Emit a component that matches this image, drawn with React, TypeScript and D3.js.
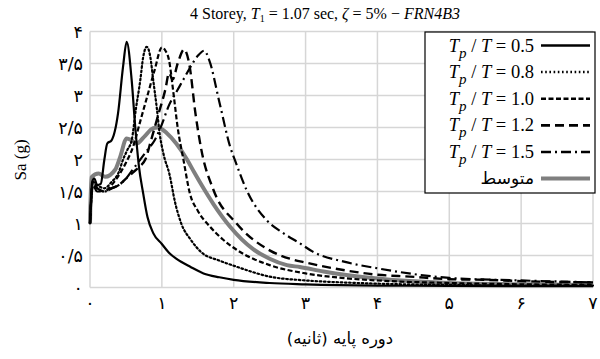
import React from "react";
import * as d3 from "d3";

const W = 600;
const H = 359;

const xTicks = [0, 1, 2, 3, 4, 5, 6, 7];
const xTickLabels = ["۰", "۱", "۲", "۳", "۴", "۵", "۶", "۷"];
const yTicks = [0, 0.5, 1, 1.5, 2, 2.5, 3, 3.5, 4];
const yTickLabels = ["۰", "۰/۵", "۱", "۱/۵", "۲", "۲/۵", "۳", "۳/۵", "۴"];

const legendLabels = ["0.5", "0.8", "1.0", "1.2", "1.5"];
const meanLabel = "متوسط";

const tp05x = [0, 0.03, 0.06, 0.1, 0.15, 0.2, 0.24, 0.3, 0.39, 0.46, 0.51, 0.58, 0.63, 0.68, 0.74, 0.8, 0.88, 1.0, 1.11, 1.2, 1.4, 1.58, 1.8, 2.0, 2.5, 3, 4, 5, 6, 7];
const tp05y = [1.0, 1.65, 1.7, 1.6, 1.62, 2.0, 2.25, 2.3, 2.72, 3.45, 3.84, 3.24, 2.5, 1.9, 1.47, 1.1, 0.85, 0.68, 0.53, 0.45, 0.32, 0.22, 0.16, 0.12, 0.07, 0.05, 0.03, 0.025, 0.02, 0.02];

const tp08x = [0, 0.04, 0.1, 0.2, 0.3, 0.4, 0.46, 0.52, 0.58, 0.64, 0.7, 0.74, 0.79, 0.84, 0.88, 0.93, 0.97, 1.02, 1.11, 1.18, 1.27, 1.4, 1.55, 1.8, 2.0, 2.5, 3, 3.5, 4, 5, 6, 7];
const tp08y = [1.0, 1.65, 1.6, 1.55, 1.65, 1.8, 2.0, 2.15, 2.3, 2.8, 3.24, 3.6, 3.76, 3.6, 3.24, 2.8, 2.4, 2.1, 1.75, 1.35, 1.0, 0.75, 0.55, 0.42, 0.34, 0.17, 0.11, 0.08, 0.06, 0.04, 0.03, 0.03];

const tp10x = [0, 0.04, 0.1, 0.2, 0.3, 0.4, 0.5, 0.6, 0.7, 0.8, 0.9, 1.0, 1.05, 1.1, 1.16, 1.22, 1.3, 1.39, 1.5, 1.67, 1.85, 2.04, 2.5, 3, 3.5, 4, 5, 6, 7];
const tp10y = [1.0, 1.65, 1.55, 1.5, 1.6, 1.75, 1.95, 2.2, 2.6, 3.0, 3.4, 3.75, 3.7, 3.55, 3.05, 2.5, 2.0, 1.47, 1.2, 0.95, 0.75, 0.59, 0.35, 0.22, 0.15, 0.11, 0.07, 0.05, 0.04];

const tp12x = [0, 0.04, 0.1, 0.2, 0.3, 0.4, 0.5, 0.6, 0.7, 0.77, 0.85, 0.95, 1.05, 1.1, 1.15, 1.22, 1.31, 1.38, 1.47, 1.55, 1.72, 2.04, 2.5, 2.78, 3.0, 3.39, 4, 4.45, 5, 5.5, 6, 7];
const tp12y = [1.0, 1.6, 1.55, 1.5, 1.55, 1.6, 1.7, 1.8, 1.9, 2.0, 2.3, 2.7, 3.1, 3.35, 3.25, 3.5, 3.72, 3.5, 2.7, 2.15, 1.52, 1.0, 0.58, 0.45, 0.39, 0.3, 0.2, 0.17, 0.13, 0.12, 0.1, 0.08];

const tp15x = [0, 0.04, 0.1, 0.2, 0.3, 0.4, 0.5, 0.6, 0.7, 0.8, 0.9, 1.0, 1.1, 1.2, 1.3, 1.4, 1.5, 1.59, 1.66, 1.8, 1.95, 2.03, 2.18, 2.46, 2.69, 2.92, 3.1, 3.55, 4, 5, 6, 7];
const tp15y = [1.0, 1.6, 1.5, 1.5, 1.55, 1.6, 1.7, 1.85, 2.0, 2.15, 2.3, 2.55, 2.85, 3.05, 3.25, 3.45, 3.62, 3.7, 3.55, 2.9, 2.2, 1.95, 1.52, 1.05, 0.85, 0.69, 0.56, 0.4, 0.3, 0.15, 0.11, 0.08];

const meanX = [0, 0.02, 0.12, 0.21, 0.35, 0.42, 0.51, 0.58, 0.65, 0.75, 0.88, 0.95, 1.07, 1.2, 1.35, 1.45, 1.58, 1.72, 1.95, 2.27, 2.5, 2.74, 2.92, 3.25, 4, 5, 6, 7];
const meanY = [1.0, 1.72, 1.78, 1.73, 1.84, 2.04, 2.33, 2.3, 2.25, 2.35, 2.49, 2.5, 2.41, 2.25, 2.0, 1.8, 1.55, 1.3, 0.95, 0.6, 0.45, 0.35, 0.32, 0.25, 0.14, 0.07, 0.05, 0.04];

const seriesX = [tp05x, tp08x, tp10x, tp12x, tp15x];
const seriesY = [tp05y, tp08y, tp10y, tp12y, tp15y];

const dashes = ["", "1.6,2.6", "5,2.5", "9,5", "10,4,2,4"];
const widths = [2.2, 2.2, 2.2, 2.4, 2.2];

const serif = "'Liberation Serif', 'Times New Roman', 'DejaVu Sans', serif";
const persian = "'DejaVu Sans', 'Noto Sans', sans-serif";

export default function App() {
  const left = 90;
  const right = 593;
  const top = 31.5;
  const bottom = 287.5;
  const x = d3.scaleLinear().domain([0, 7]).range([left, right]);
  const y = d3.scaleLinear().domain([0, 4]).range([bottom, top]);
  const line = d3
    .line<[number, number]>()
    .x((d) => x(d[0]))
    .y((d) => y(d[1]))
    .curve(d3.curveMonotoneX);

  const pts = (xs: number[], ys: number[]) => xs.map((v, i) => [v, ys[i]] as [number, number]);

  const lgX = 425;
  const lgY = 32;
  const lgW = 170;
  const lgH = 161;
  const rowY = (i: number) => lgY + 13.5 + i * 26.6;

  return (
    <svg width={W} height={H} style={{ position: "absolute", left: 0, top: 0, background: "#fff" }}>
      <rect x={0} y={0} width={W} height={H} fill="#fff" />
      {yTicks.map((t) => (
        <line key={"gy" + t} x1={left} x2={right} y1={y(t)} y2={y(t)} stroke="#d6d6d6" strokeWidth={1.5} />
      ))}
      {xTicks.map((t) => (
        <line key={"gx" + t} x1={x(t)} x2={x(t)} y1={top} y2={bottom} stroke="#d6d6d6" strokeWidth={1.5} />
      ))}
      {yTicks.map((t, i) => (
        <text key={"yl" + t} x={83} y={y(t) + 6} textAnchor="end" fontFamily={persian} fontSize={17.5} fill="#000">
          {yTickLabels[i]}
        </text>
      ))}
      {xTicks.map((t, i) => (
        <text key={"xl" + t} x={x(t)} y={309} textAnchor="middle" fontFamily={persian} fontSize={17.5} fill="#000">
          {xTickLabels[i]}
        </text>
      ))}
      <path d={line(pts(meanX, meanY)) || ""} fill="none" stroke="#7f7f7f" strokeWidth={4} strokeLinejoin="round" />
      {seriesX.map((xs, i) => (
        <path
          key={"s" + i}
          d={line(pts(xs, seriesY[i])) || ""}
          fill="none"
          stroke="#000"
          strokeWidth={widths[i]}
          strokeDasharray={dashes[i] || undefined}
          strokeLinecap={i === 1 ? "round" : "butt"}
        />
      ))}
      <text x={325} y={19} textAnchor="middle" fontFamily={serif} fontSize={16} fill="#000">
        4 Storey,{" "}
        <tspan fontStyle="italic">T</tspan>
        <tspan fontSize={10} dy={3}>1</tspan>
        <tspan dy={-3}> = 1.07 sec, </tspan>
        <tspan fontStyle="italic">ζ</tspan>
        <tspan> = 5% − </tspan>
        <tspan fontStyle="italic">FRN</tspan>
        <tspan fontStyle="italic">4B3</tspan>
      </text>
      <text transform="translate(26,160) rotate(-90)" textAnchor="middle" fontFamily={serif} fontSize={17} fill="#000">
        Sa (g)
      </text>
      <text x={340} y={344} textAnchor="middle" fontFamily={persian} fontSize={16.5} fill="#000" direction="rtl">
        دوره پایه (ثانیه)
      </text>
      <rect x={lgX} y={lgY} width={lgW} height={lgH} fill="#fff" stroke="#000" strokeWidth={1.2} />
      {legendLabels.map((lab, i) => (
        <g key={"lg" + i}>
          <text x={534} y={rowY(i) + 6} textAnchor="end" fontFamily={serif} fontSize={18.5} fill="#000">
            <tspan fontStyle="italic">T</tspan>
            <tspan fontStyle="italic" fontSize={15} dy={6}>p</tspan>
            <tspan dy={-6}> / </tspan>
            <tspan fontStyle="italic">T</tspan>
            <tspan> = {lab}</tspan>
          </text>
          <line
            x1={541}
            x2={590}
            y1={rowY(i)}
            y2={rowY(i)}
            stroke="#000"
            strokeWidth={widths[i] + 0.3}
            strokeDasharray={dashes[i] || undefined}
          />
        </g>
      ))}
      <text x={534} y={rowY(5) + 5} textAnchor="end" fontFamily={persian} fontSize={17} fill="#000">
        {meanLabel}
      </text>
      <line x1={541} x2={590} y1={rowY(5)} y2={rowY(5)} stroke="#7f7f7f" strokeWidth={4} />
    </svg>
  );
}
